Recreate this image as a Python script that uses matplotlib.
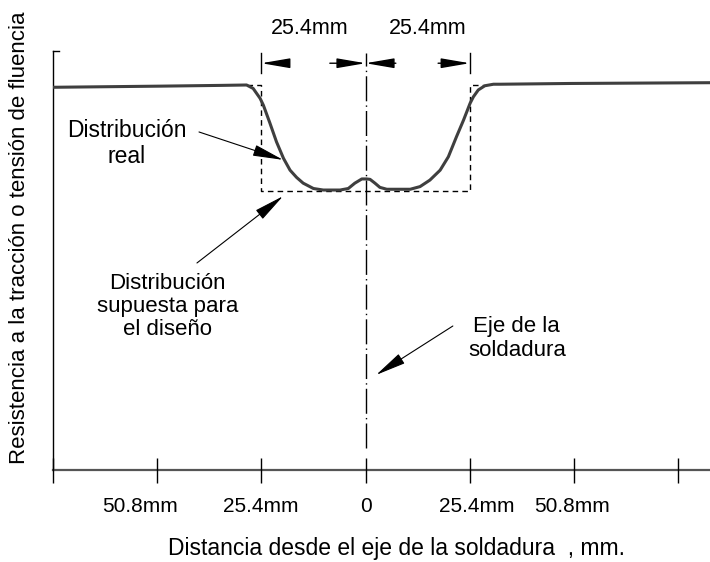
import numpy as np
import matplotlib.pyplot as plt

plt.rcParams['font.family'] = ['Liberation Sans', 'DejaVu Sans']

# distancia desde el eje de la soldadura (mm) y resistencia relativa (%)
dist_real = [-76.2, -50, -35, -29.0, -27.4, -25.7, -24.9, -23.3, -21.7, -20.0, -18.4,
             -16.8, -15.2, -12.7, -10.3, -6.2, -4.2, -2.6, -0.9, 0.3, 1.1, 2.3, 3.5,
             5.2, 10.9, 13.3, 15.7, 18.2, 20.2, 22.2, 23.9, 25.5, 26.3, 27.5, 29.1,
             31.2, 32.8, 50, 84]
resist_real = [100.2, 100.5, 100.7, 100.8, 99.9, 97.3, 95.5, 90.8, 85.9, 81.6, 78.5,
               76.6, 75.1, 73.7, 73.3, 73.3, 73.7, 75.1, 76.2, 76.2, 76.1, 75.1, 74.0,
               73.5, 73.5, 74.2, 75.9, 78.5, 82.0, 87.3, 91.6, 96.0, 97.7, 99.5, 100.6,
               101.0, 101.0, 101.2, 101.4]

# distribucion supuesta para el diseno
dist_diseno = [-29, -25.4, -25.4, 25.4, 25.4, 29]
resist_diseno = [100.8, 100.8, 73.0, 73.0, 100.8, 100.8]

ticks = [-76.2, -50.8, -25.4, 0, 25.4, 50.8, 76.2]
tick_pos = [-54.9, -25.6, 0, 27.1, 50.4]
tick_txt = ['50.8mm', '25.4mm', '0', '25.4mm', '50.8mm']

ancho_zona = 25.4

fig = plt.figure(figsize=(7.1, 5.62), dpi=100)
ax = fig.add_axes([53 / 710, 92 / 562, 657 / 710, 419 / 562])
ax.set_xlim(-76.2, 84.0)
ax.set_ylim(0, 109.7)
ax.axis('off')

# ejes
ax.plot([-76.2, -76.2], [0, 109.7], color='black', lw=1, clip_on=False)
ax.plot([-76.2, -74.8], [109.7, 109.7], color='black', lw=1, clip_on=False)
ax.plot([-76.2, 84.0], [0, 0], color='#555555', lw=1.6, clip_on=False)
ax.vlines(ticks, -3.4, 3.1, color='black', lw=1, clip_on=False)

for xp, t in zip(tick_pos, tick_txt):
    ax.text(xp, -9.6, t, ha='center', va='center', fontsize=15)

# eje de la soldadura
ax.plot([0, 0], [5.8, 109.2], color='black', lw=1,
        dashes=[18, 3, 1, 3], clip_on=False)

# lineas de cota
for s in (-1, 1):
    ax.plot([s * ancho_zona] * 2, [103.9, 109.2], color='black', lw=1, clip_on=False)

arrow = dict(arrowstyle='-|>,head_length=1.75,head_width=0.3', mutation_scale=10,
             color='black', lw=1, shrinkA=0, shrinkB=0)
ax.annotate('', xy=(-ancho_zona, 106.5), xytext=(-19.3, 106.5), arrowprops=arrow)
ax.annotate('', xy=(0, 106.5), xytext=(-8.7, 106.5), arrowprops=arrow)
ax.annotate('', xy=(0, 106.5), xytext=(7.4, 106.5), arrowprops=arrow)
ax.annotate('', xy=(ancho_zona, 106.5), xytext=(17.7, 106.5), arrowprops=arrow)
ax.text(-13.5, 115.6, '25.4mm', ha='center', va='center', fontsize=15.5, clip_on=False)
ax.text(15.2, 115.6, '25.4mm', ha='center', va='center', fontsize=15.5, clip_on=False)

# distribuciones
ax.plot(dist_diseno, resist_diseno, color='black', lw=1, dashes=[4, 3])
ax.plot(dist_real, resist_real, color='#3f3f3f', lw=2.2, solid_joinstyle='round')

flecha = dict(arrowstyle='-|>,head_length=1.9,head_width=0.35', mutation_scale=10,
              color='black', lw=0.8, shrinkA=0, shrinkB=0)
ax.annotate('', xy=(-20.1, 81.2), xytext=(-40.6, 88.5), arrowprops=flecha)
ax.annotate('', xy=(-20.1, 71.7), xytext=(-41.1, 54.2), arrowprops=flecha)
ax.annotate('', xy=(2.6, 24.9), xytext=(21.3, 37.7), arrowprops=flecha)

ax.text(-58.3, 85.5, 'Distribución\nreal', ha='center', va='center',
        fontsize=16.5, linespacing=1.2)
ax.text(-48.2, 42.8, 'Distribución\nsupuesta para\nel diseño', ha='center',
        va='center', fontsize=16, linespacing=1.15)
ax.text(36.9, 34.4, 'Eje de la\nsoldadura', ha='center', va='center',
        fontsize=16, linespacing=1.2)

fig.text(20 / 710, 1 - 238 / 562, 'Resistencia a la tracción o tensión de fluencia',
         rotation=90, ha='center', va='center', fontsize=16)
fig.text(168 / 710, 1 - 549 / 562, 'Distancia desde el eje de la soldadura  , mm.',
         ha='left', va='center', fontsize=16.5)

fig.savefig('out.png', dpi=100)
